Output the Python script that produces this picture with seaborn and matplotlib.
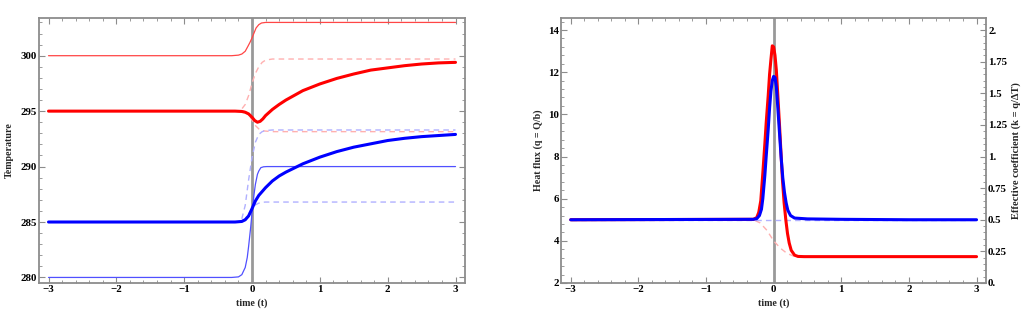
import numpy as np
import pandas as pd
import seaborn as sns
import matplotlib.pyplot as plt
from matplotlib.ticker import MultipleLocator, FixedLocator

# ---- left panel: temperatures ----
t_red_env = [-3.0, -0.3, -0.2, -0.15, -0.1, -0.06, -0.03, 0.0, 0.03, 0.06, 0.1, 0.14, 0.2, 0.3, 3.0]
T_red_env = [300.0, 300.0, 300.05, 300.15, 300.4, 300.85, 301.2, 301.6, 302.05, 302.5, 302.8, 302.95, 303.0, 303.0, 303.0]

t_blue_env = [-3.0, -0.3, -0.2, -0.15, -0.1, -0.07, -0.05, -0.02, 0.0, 0.03, 0.05, 0.08, 0.1, 0.13, 0.17, 0.22, 3.0]
T_blue_env = [280.0, 280.0, 280.05, 280.25, 280.9, 281.8, 282.8, 284.5, 285.8, 287.5, 288.4, 289.3, 289.6, 289.9, 289.98, 290.0, 290.0]

t_red_body = [-3.0, -0.25, -0.15, -0.1, -0.05, 0.0, 0.04, 0.08, 0.12, 0.16, 0.2, 0.3, 0.4, 0.5, 0.75,
              1.0, 1.25, 1.5, 1.75, 2.0, 2.25, 2.5, 2.75, 3.0]
T_red_body = [295.0, 295.0, 294.97, 294.9, 294.75, 294.45, 294.15, 294.0, 294.08, 294.3, 294.6, 295.15, 295.6,
              296.0, 296.85, 297.45, 297.95, 298.35, 298.7, 298.9, 299.1, 299.25, 299.35, 299.4]

t_blue_body = [-3.0, -0.25, -0.15, -0.1, -0.05, 0.0, 0.05, 0.1, 0.2, 0.3, 0.4, 0.5, 0.75, 1.0, 1.25,
               1.5, 1.75, 2.0, 2.25, 2.5, 2.75, 3.0]
T_blue_body = [285.0, 285.0, 285.05, 285.2, 285.55, 286.2, 286.9, 287.4, 288.1, 288.7, 289.15, 289.5, 290.25,
               290.85, 291.35, 291.75, 292.05, 292.35, 292.55, 292.7, 292.8, 292.9]

t_red_up = [-3.0, -0.2, -0.15, -0.1, -0.05, 0.0, 0.05, 0.1, 0.15, 0.2, 0.3, 3.0]
T_red_up = [295.0, 295.0, 295.2, 295.6, 296.4, 297.5, 298.4, 299.0, 299.4, 299.6, 299.7, 299.7]

t_red_lo = [-3.0, -0.12, -0.05, 0.0, 0.05, 0.1, 0.15, 0.2, 0.3, 3.0]
T_red_lo = [295.0, 295.0, 294.7, 294.2, 293.7, 293.4, 293.25, 293.2, 293.15, 293.15]

t_blue_up = [-3.0, -0.2, -0.15, -0.1, -0.05, 0.0, 0.05, 0.1, 0.15, 0.2, 0.3, 3.0]
T_blue_up = [285.0, 285.0, 285.3, 286.5, 288.8, 290.8, 292.2, 292.9, 293.15, 293.25, 293.3, 293.3]

t_blue_lo = [-3.0, -0.2, -0.1, -0.05, 0.0, 0.05, 0.1, 0.15, 0.2, 3.0]
T_blue_lo = [285.0, 285.0, 285.3, 285.7, 286.2, 286.55, 286.7, 286.78, 286.8, 286.8]

# ---- right panel: heat flux and coefficient ----
t_q_red = [-3.0, -0.3, -0.25, -0.22, -0.19, -0.16, -0.13, -0.11, -0.08, -0.06, -0.04, -0.02, 0.0, 0.02,
           0.04, 0.06, 0.085, 0.11, 0.13, 0.155, 0.18, 0.205, 0.23, 0.26, 0.31, 0.36, 0.45, 3.0]
q_red = [5.0, 5.02, 5.1, 5.35, 5.9, 7.2, 8.6, 9.6, 10.9, 11.9, 12.6, 13.25, 13.2, 12.8,
         12.1, 11.0, 9.6, 8.1, 6.9, 5.8, 5.0, 4.35, 3.9, 3.55, 3.32, 3.26, 3.25, 3.25]

t_q_blue = [-3.0, -0.3, -0.25, -0.21, -0.18, -0.16, -0.13, -0.11, -0.08, -0.06, -0.04, -0.02, 0.0, 0.02,
            0.04, 0.06, 0.085, 0.11, 0.135, 0.16, 0.185, 0.21, 0.25, 0.31, 0.5, 1.0, 2.0, 3.0]
q_blue = [5.0, 5.02, 5.05, 5.2, 5.5, 6.0, 7.1, 8.0, 9.3, 10.3, 11.1, 11.6, 11.8, 11.75,
          11.3, 10.4, 9.2, 8.0, 7.0, 6.3, 5.8, 5.45, 5.2, 5.08, 5.04, 5.02, 5.0, 5.0]

t_k_red = [-3.0, -0.3, -0.2, -0.1, 0.0, 0.1, 0.2, 0.3, 0.4, 3.0]
k_red = [0.5, 0.5, 0.475, 0.417, 0.333, 0.275, 0.233, 0.212, 0.208, 0.208]

t_k_blue = [-3.0, 3.0]
k_blue = [0.5, 0.5]

x_ticks = [-3, -2, -1, 0, 1, 2, 3]
x_labels = ['\u22123', '\u22122', '\u22121', '0', '1', '2', '3']
k_ticks = [0, 0.25, 0.5, 0.75, 1.0, 1.25, 1.5, 1.75, 2.0]
k_labels = ['0.', '0.25', '0.5', '0.75', '1.', '1.25', '1.5', '1.75', '2.']

sns.set_style("ticks")
plt.rcParams['font.family'] = ['Liberation Serif', 'DejaVu Serif']
plt.rcParams['font.weight'] = 'bold'
plt.rcParams['axes.labelweight'] = 'bold'

RED = '#ff0000'
BLUE = '#0000ff'
RED_THIN = '#ff4646'
BLUE_THIN = '#5050ff'
RED_DASH = '#ffb0b0'
BLUE_DASH = '#b0b0ff'
FRAME = '#8c8c8c'
DASH = (0, (4, 3))
LABEL_SIZE = 7.2

fig = plt.figure(figsize=(10.24, 3.18), dpi=100)
ax1 = fig.add_axes([0.0381, 0.1101, 0.416, 0.8333])
ax2 = fig.add_axes([0.5481, 0.1101, 0.4148, 0.8333])


def line(ax, t, v, color, lw, ls='-', z=2):
    df = pd.DataFrame({'t': t, 'v': v})
    sns.lineplot(data=df, x='t', y='v', ax=ax, color=color, linewidth=lw,
                 linestyle=ls, zorder=z, sort=False, legend=False)


def ticks(ax):
    ax.tick_params(which='both', direction='in', colors=FRAME, labelcolor='black',
                   labelsize=7.8, pad=1.5)
    ax.tick_params(which='major', length=4, width=0.8)
    ax.tick_params(which='minor', length=2, width=0.6)


def frame(ax):
    for s in ax.spines.values():
        s.set_color(FRAME)
        s.set_linewidth(1.3)
    ticks(ax)
    ax.tick_params(which='both', top=True)
    ax.set_xlim(-3.14, 3.14)
    ax.xaxis.set_major_locator(FixedLocator(x_ticks))
    ax.set_xticklabels(x_labels)
    ax.xaxis.set_minor_locator(MultipleLocator(0.2))
    ax.axvline(0, color='#999999', lw=2, zorder=1.5)
    ax.set_xlabel('time (t)', fontsize=LABEL_SIZE, labelpad=3)


# left panel
frame(ax1)
ax1.tick_params(which='both', right=True)
line(ax1, t_red_up, T_red_up, RED_DASH, 1.0, DASH, 1.8)
line(ax1, t_red_lo, T_red_lo, RED_DASH, 1.0, DASH, 1.8)
line(ax1, t_blue_up, T_blue_up, BLUE_DASH, 1.0, DASH, 1.8)
line(ax1, t_blue_lo, T_blue_lo, BLUE_DASH, 1.0, DASH, 1.8)
line(ax1, t_red_env, T_red_env, RED_THIN, 0.9)
line(ax1, t_blue_env, T_blue_env, BLUE_THIN, 0.9)
line(ax1, t_red_body, T_red_body, RED, 2.2, z=3)
line(ax1, t_blue_body, T_blue_body, BLUE, 2.2, z=3)
ax1.set_ylim(279.5, 303.4)
ax1.yaxis.set_major_locator(MultipleLocator(5))
ax1.yaxis.set_minor_locator(MultipleLocator(1))
ax1.set_ylabel('Temperature', fontsize=LABEL_SIZE, labelpad=5)

# right panel
frame(ax2)
ax2.tick_params(which='both', right=False)
ax2.set_ylim(2, 14.57)
ax2.yaxis.set_major_locator(MultipleLocator(2))
ax2.yaxis.set_minor_locator(MultipleLocator(0.4))
ax2.set_ylabel('Heat flux (q = Q/b)', fontsize=LABEL_SIZE, labelpad=4)

ax3 = ax2.twinx()
for s in ax3.spines.values():
    s.set_visible(False)
ax3.set_ylim(0, 2.095)
ax3.yaxis.set_major_locator(FixedLocator(k_ticks))
ax3.set_yticklabels(k_labels)
ax3.yaxis.set_minor_locator(MultipleLocator(0.05))
ticks(ax3)
line(ax3, t_k_red, k_red, RED_DASH, 1.0, DASH, 1.8)
line(ax3, t_k_blue, k_blue, BLUE_DASH, 1.0, DASH, 1.8)
ax3.set_ylabel('Effective coefficient (k = q/\u0394T)', fontsize=7.6, labelpad=3)
ax3.set_xlabel('')

# flux curves drawn above the dashed coefficient curves
ax4 = ax2.twinx()
ax4.set_ylim(2, 14.57)
ax4.axis('off')
line(ax4, t_q_red, q_red, RED, 2.2, z=3)
line(ax4, t_q_blue, q_blue, BLUE, 2.2, z=3)

for ax in (ax1, ax2, ax3):
    for lab in ax.get_xticklabels() + ax.get_yticklabels():
        lab.set_fontweight('bold')

fig.savefig('out.png', dpi=100)
